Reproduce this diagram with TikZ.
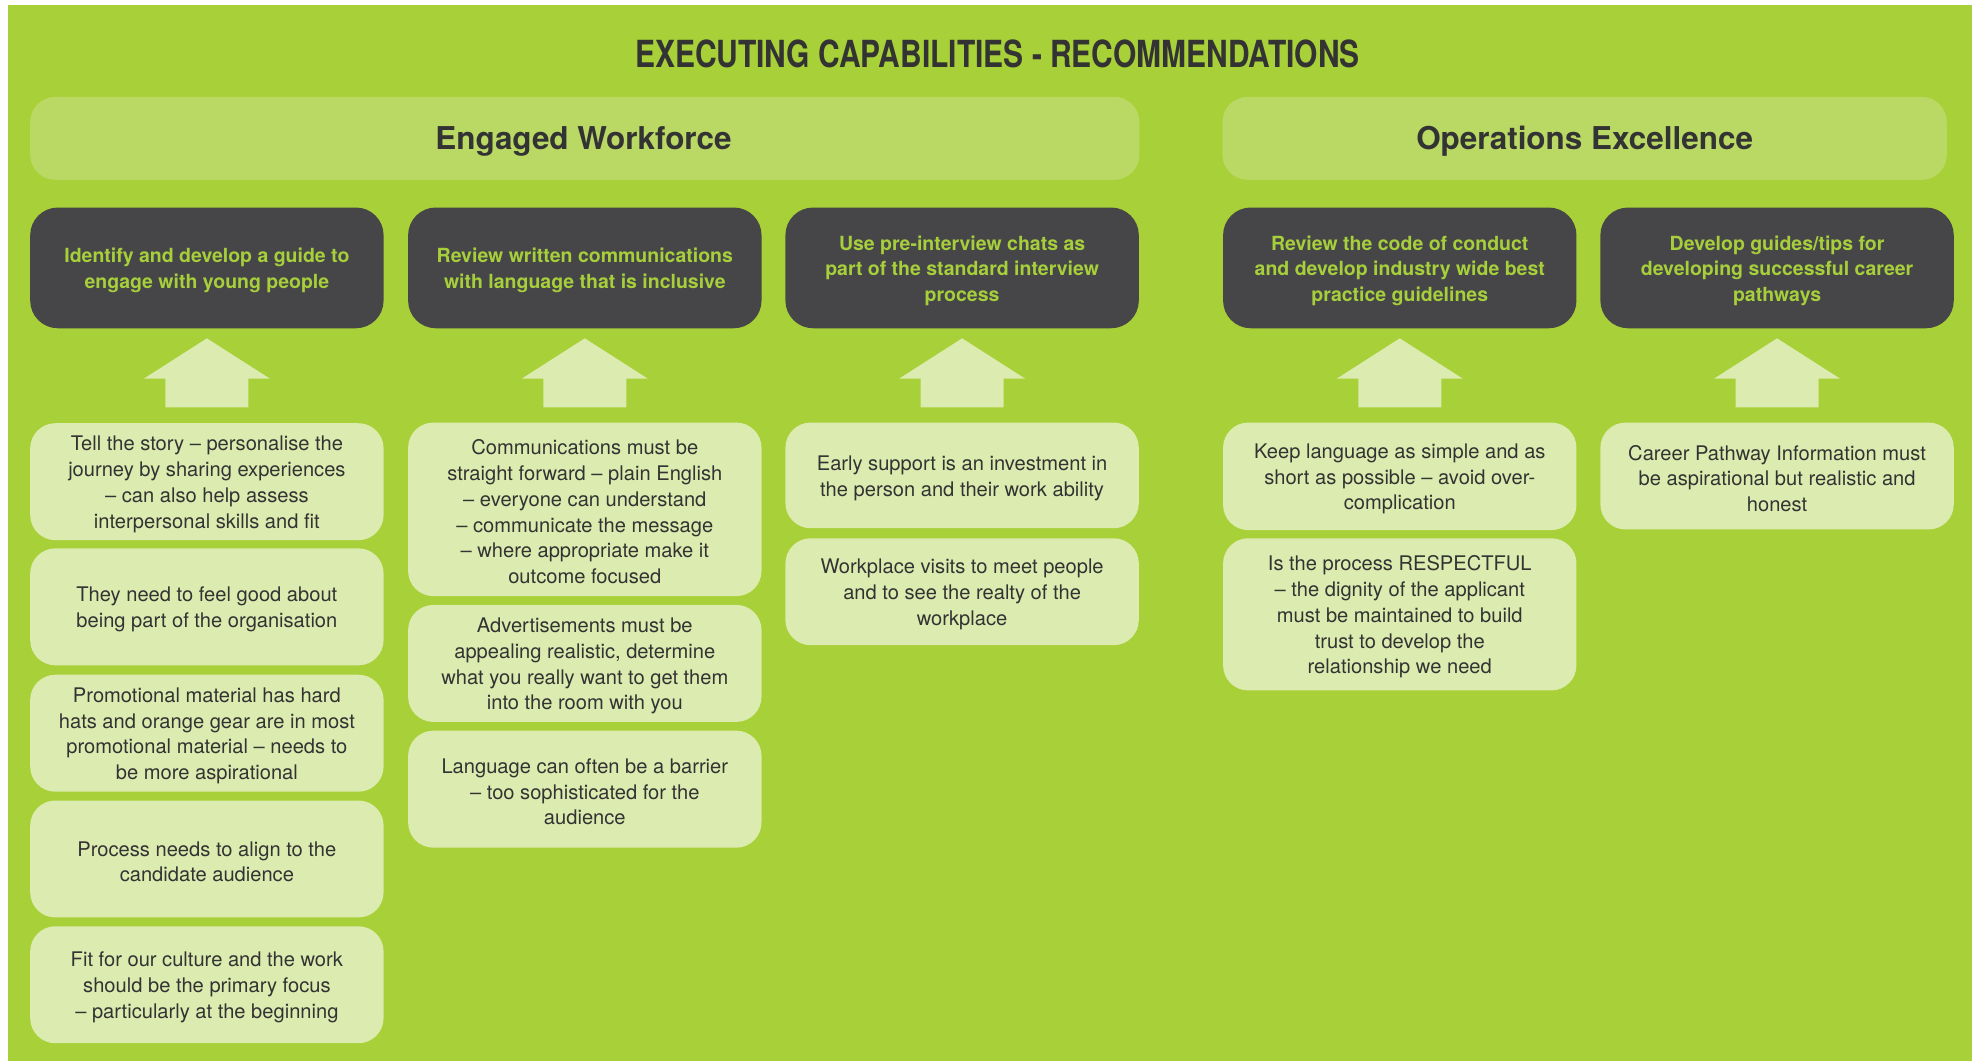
\documentclass[tikz,border=0pt]{standalone}
\usepackage{fontspec}
\setmainfont{TeX Gyre Heros}
\usepackage{graphicx}
\definecolor{bggreen}{HTML}{A8D038}
\definecolor{hdrgreen}{HTML}{BAD964}
\definecolor{boxlight}{HTML}{DCEBAF}
\definecolor{darkbox}{HTML}{464648}
\definecolor{greentext}{HTML}{A6CF3B}
\definecolor{darktext}{HTML}{333333}
\newcommand\myst{\rule{0pt}{16pt}}
\begin{document}
\begin{tikzpicture}[x=1pt,y=-1pt,
  hdr/.style={fill=hdrgreen, rounded corners=20pt, minimum height=66pt, inner sep=0pt},
  hdrtext/.style={text=darktext, font=\bfseries\fontsize{25}{28}\selectfont, inner sep=0pt, anchor=base},
  dbox/.style={fill=darkbox, rounded corners=22pt, minimum width=281pt, minimum height=96pt, text=greentext, font=\bfseries\fontsize{15.5}{20.5}\selectfont, align=center, inner sep=0pt},
  lbox/.style={fill=boxlight, rounded corners=20pt, minimum width=281pt, text=darktext, font=\fontsize{16}{20.5}\selectfont, align=center, inner sep=0pt}
]
\useasboundingbox (0,0) rectangle (1568,844);
\fill[white] (0,0) rectangle (1568,844);
\fill[bggreen] (6,4) rectangle (1568,844);

% title
\node[inner sep=0pt, text=darktext] (title) at (793,42.5) {\resizebox{576pt}{22pt}{\bfseries EXECUTING CAPABILITIES - RECOMMENDATIONS}};

% headers
\node[hdr, minimum width=882pt] (hew) at (465,110) {};
\node[hdr, minimum width=576pt] (hoe) at (1260,110) {};
\node[hdrtext] (tew) at (464,118.5) {Engaged Workforce};
\node[hdrtext] (toe) at (1260,118.5) {Operations Excellence};

% dark boxes
\node[dbox] (d1) at (164.5,213) {\myst Identify and develop a guide to\\engage with young people};
\node[dbox] (d2) at (465,213) {\myst Review written communications\\with language that is inclusive};
\node[dbox] (d3) at (765,213) {\myst Use pre-interview chats as\\part of the standard interview\\process};
\node[dbox] (d4) at (1113,213) {\myst Review the code of conduct\\and develop industry wide best\\practice guidelines};
\node[dbox] (d5) at (1413,213) {\myst Develop guides/tips for\\developing successful career\\pathways};

% arrows
\foreach \cx in {164.5,465,765,1113,1413}{
  \fill[boxlight] (\cx,269) -- (\cx+50,301) -- (\cx+33,301) -- (\cx+33,324) -- (\cx-33,324) -- (\cx-33,301) -- (\cx-50,301) -- cycle;
}

% column 1
\node[lbox, minimum height=93pt] (a1) at (164.5,383) {\myst Tell the story – personalise the\\journey by sharing experiences\\– can also help assess\\interpersonal skills and fit};
\node[lbox, minimum height=93pt] (a2) at (164.5,482.5) {\myst They need to feel good about\\being part of the organisation};
\node[lbox, minimum height=93pt] (a3) at (164.5,583) {\myst Promotional material has hard\\hats and orange gear are in most\\promotional material – needs to\\be more aspirational};
\node[lbox, minimum height=93pt] (a4) at (164.5,683) {\myst Process needs to align to the\\candidate audience};
\node[lbox, minimum height=93pt] (a5) at (164.5,783) {\myst Fit for our culture and the work\\should be the primary focus\\– particularly at the beginning};

% column 2
\node[lbox, minimum height=138pt] (b1) at (465,405) {\myst Communications must be\\straight forward – plain English\\– everyone can understand\\– communicate the message\\– where appropriate make it\\outcome focused};
\node[lbox, minimum height=93pt] (b2) at (465,527.5) {\myst Advertisements must be\\appealing realistic, determine\\what you really want to get them\\into the room with you};
\node[lbox, minimum height=93pt] (b3) at (465,627.5) {\myst Language can often be a barrier\\– too sophisticated for the\\audience};

% column 3
\node[lbox, minimum height=84pt] (c1) at (765,378) {\myst Early support is an investment in\\the person and their work ability};
\node[lbox, minimum height=85pt] (c2) at (765,470.5) {\myst Workplace visits to meet people\\and to see the realty of the\\workplace};

% column 4
\node[lbox, minimum height=85.5pt] (e1) at (1113,378.75) {\myst Keep language as simple and as\\short as possible – avoid over-\\complication};
\node[lbox, minimum height=121pt] (e2) at (1113,488.5) {\myst Is the process RESPECTFUL\\– the dignity of the applicant\\must be maintained to build\\trust to develop the\\relationship we need};

% column 5
\node[lbox, minimum height=85pt] (f1) at (1413,378.5) {\myst Career Pathway Information must\\be aspirational but realistic and\\honest};
\end{tikzpicture}
\end{document}
